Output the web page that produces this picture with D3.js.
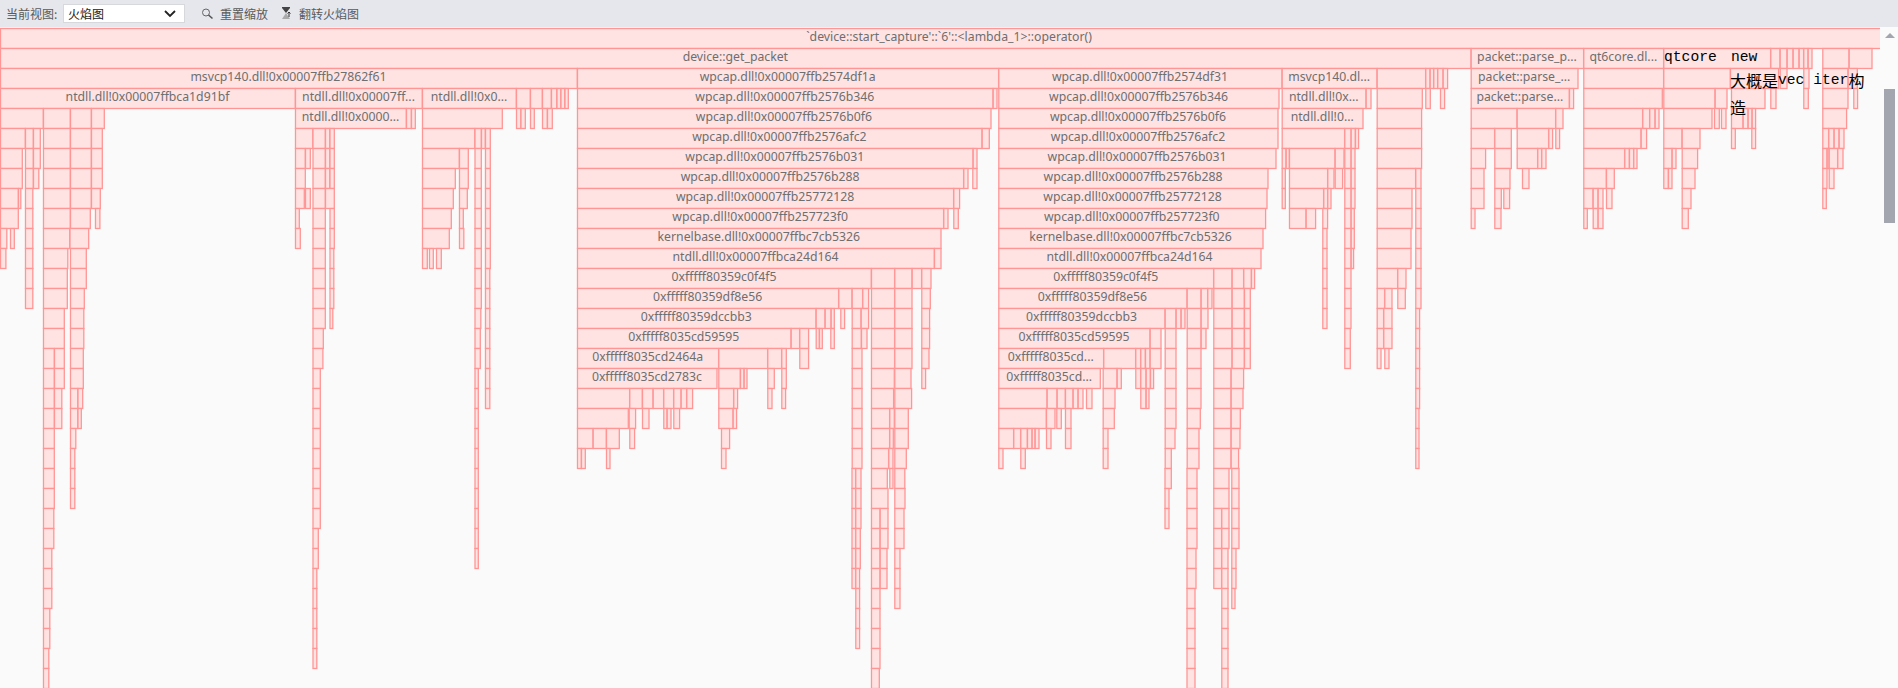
<!DOCTYPE html>
<html>
<head>
<meta charset="utf-8">
<title>flamegraph</title>
<script src="https://cdn.jsdelivr.net/npm/d3@7"></script>
<style>
  html, body { margin: 0; padding: 0; background: #fafafa; overflow: hidden; }
  svg { display: block; }
  .frame { fill: #ffe3e3; stroke: #ff9696; stroke-width: 1.3; }
  .label { font: 12.25px "Noto Sans", "Noto Sans CJK SC", sans-serif; fill: #6e6e6e; text-anchor: middle; dominant-baseline: central; }
  .tool { font: 12px "Noto Sans CJK SC", sans-serif; fill: #5a5a5a; dominant-baseline: central; }
  .note { font-family: "Liberation Mono", "Noto Sans CJK SC", monospace; font-size: 14.67px; fill: #000; dominant-baseline: central; }
</style>
</head>
<body>
<svg id="chart" width="1898" height="688"></svg>
<script>
// sample time of every stack frame, one list per call depth: [start, end]
var depth0 = [[0,1898]];
var depth1 = [[0,1470.7],[1470.7,1583.3],[1583.3,1663.3],[1663.3,1770.3],[1770.3,1779.7],[1779.7,1786.7],[1786.7,1792.7],[1792.7,1798.7],[1798.7,1803.3],[1803.3,1807.7],[1807.7,1811.7],[1822.3,1848.7],[1848.7,1871.7]];
var depth2 = [[0,577],[577,998.3],[998.3,1281.7],[1281.7,1376.7],[1376.7,1425.3],[1425.3,1429.7],[1429.7,1433.3],[1433.3,1437.3],[1437.3,1442.7],[1442.7,1447.3],[1470.7,1577.7],[1583.3,1663.3],[1663.3,1730],[1730,1778.3],[1779.7,1786.7],[1803.3,1808.7],[1822.3,1847.7],[1847.7,1857]];
var depth3 = [[0,295],[295,422],[422,516],[516,530],[530,542],[542,551],[551,556.5],[556.5,560.5],[560.5,564.5],[564.5,568],[577,992.7],[992.7,996.7],[998.3,1278.7],[1281.7,1365.7],[1365.7,1370.7],[1376.7,1422],[1425.3,1430],[1440,1444.3],[1470.7,1569],[1569,1573.3],[1583.3,1662],[1663.3,1714.7],[1714.7,1726.7],[1731,1764.7],[1770.3,1775.7],[1803.3,1808],[1822.3,1847.7],[1853.3,1857.3]];
var depth4 = [[0,43],[43,70],[70,91],[91,104],[295,406],[406,411],[411,415],[422,502],[516,520.5],[520.5,525],[530,534],[542,547],[547,552],[577,990.7],[998.3,1277.7],[1281.7,1362.7],[1376.7,1421.3],[1470.7,1516.7],[1516.7,1555.3],[1555.3,1562.7],[1583.3,1642.3],[1642.3,1649.3],[1649.3,1654.7],[1654.7,1658.7],[1663.3,1711.7],[1714,1719],[1721,1725.7],[1731,1742.7],[1742.7,1747.7],[1747.7,1751.7],[1751.7,1755.3],[1822.3,1846.3]];
var depth5 = [[0,25],[25,33],[33,40],[43,70],[70,91],[91,102],[295,312.5],[312.5,325],[325,329.5],[329.5,334],[422,474.5],[474.5,481],[481,485],[485,490],[577,981.7],[981.7,989],[998.3,1277.7],[1281.7,1344.3],[1344.3,1350.7],[1350.7,1355],[1355,1358.3],[1376.7,1421.3],[1470.7,1494.3],[1494.3,1511],[1516.7,1548.3],[1548.3,1552.3],[1555.3,1559.3],[1583.3,1640.7],[1640.7,1646.3],[1663.3,1681.7],[1681.7,1699.7],[1731,1735],[1751.3,1755.3],[1822.3,1828.3],[1828.3,1833.7],[1833.7,1838.7],[1838.7,1843.7]];
var depth6 = [[0,22],[25,33],[33,40],[43,70],[70,91],[91,102],[295,305],[305,310],[312.5,325],[325,329.5],[329.5,334],[422,459],[459,468],[474.5,481],[485,490],[577,972.7],[972.7,976.7],[998.3,1275.7],[1281.7,1285.7],[1285.7,1289],[1289,1334.7],[1334.7,1343.7],[1344.3,1350.7],[1350.7,1354.7],[1376.7,1421.3],[1470.7,1485.3],[1494.3,1511],[1516.7,1537.3],[1537.3,1541.3],[1541.3,1545.7],[1583.3,1624.3],[1624.3,1629],[1629,1633.3],[1633.3,1636.7],[1663.3,1671.7],[1671.7,1675.7],[1681.7,1697.3],[1822.3,1826.7],[1826.7,1828.7],[1828.7,1837.3],[1837.3,1842.7]];
var depth7 = [[0,22],[25,33],[33,38.5],[43,70],[70,91],[91,102],[295,305],[312.5,325],[325,329.5],[329.5,334],[422,455],[459,468],[474.5,481],[485,490],[577,963.3],[963.3,967.7],[972.3,976.7],[998.3,1267.7],[1281.7,1285],[1289,1327.3],[1327.3,1333.7],[1334.7,1342.3],[1344.3,1350.7],[1350.7,1354.7],[1376.7,1415.3],[1415.3,1420.7],[1470.7,1483.7],[1494.3,1509.7],[1522,1528.7],[1583.3,1606],[1606,1614],[1663.3,1668],[1668,1671.7],[1681.7,1694.7],[1822.3,1826.7],[1828.7,1833.7]];
var depth8 = [[0,18],[18,20.5],[25,32.5],[43,70],[70,91],[91,100],[295,304],[305,310],[312.5,325],[325,334],[422,453],[459,467],[474.5,481],[485,490],[577,953.3],[953.3,959.3],[998.3,1266.7],[1281.7,1285],[1289,1323.3],[1323.3,1327.3],[1327.3,1330.7],[1344.3,1350.7],[1350.7,1354.7],[1376.7,1411.7],[1415.3,1420.7],[1470.7,1483.7],[1494.3,1501],[1503.3,1509.3],[1583.3,1592.7],[1592.7,1597.7],[1597.7,1602.7],[1606,1611.7],[1681.7,1690.7],[1822.3,1826]];
var depth9 = [[0,18],[25,32.5],[43,70],[70,90],[95,99.6],[295,299],[312.5,325],[329.5,334],[422,451],[459,463],[474.5,481],[485,490],[577,943.3],[943.3,947.7],[953.3,958],[998.3,1265.3],[1289,1305.7],[1305.7,1315.3],[1322.3,1327.3],[1344.3,1350.7],[1350.7,1354],[1376.7,1411.7],[1415.3,1420.7],[1470.7,1474.7],[1494.3,1500.7],[1583.3,1587],[1592.7,1597.7],[1597.7,1602.7],[1681.7,1688]];
var depth10 = [[0,6.5],[10,14],[25,32.5],[43,69.5],[69.5,88.4],[295,300],[312.5,325],[329.5,334],[422,449],[459,463.5],[474.5,481],[485,490],[577,940.7],[998.3,1262.7],[1322.3,1326.7],[1344.3,1350.7],[1350.7,1354],[1376.7,1410.7],[1415.3,1420.7]];
var depth11 = [[0,5.6],[25,32.5],[43,67.5],[70,86],[312.5,325],[329.5,333.5],[422,427],[429,433],[436,441],[474.5,481],[485,490],[577,934],[934,940.7],[998.3,1260.7],[1322.3,1326.7],[1344.3,1350.7],[1350.7,1353.3],[1376.7,1410.7],[1415.3,1420.7]];
var depth12 = [[25,32.5],[43,67],[70,86],[312.5,325],[329.5,333.5],[474.5,481],[485,489.5],[577,871],[871,894.3],[894.3,911.7],[911.7,921.3],[921.3,930.7],[998.3,1213.3],[1213.3,1231.7],[1231.7,1243.3],[1243.3,1251],[1251,1254.3],[1322.3,1326.7],[1344.3,1350.7],[1376.7,1397.3],[1397.3,1405.7],[1415.3,1420.7]];
var depth13 = [[25,32.5],[43,67],[70,84],[312.5,325],[329.5,333.5],[474.5,481],[485,489.5],[577,838.3],[838.3,851.7],[851.7,862.3],[862.3,868.3],[871,894.3],[894.3,911.7],[921.3,930],[998.3,1186.7],[1186.7,1200.7],[1200.7,1207.3],[1207.3,1211.7],[1213.3,1231.7],[1231.7,1244],[1244,1250],[1322.3,1326.7],[1344.3,1350.7],[1376.7,1384.3],[1384.3,1391.7],[1397.3,1405],[1415.3,1420.7]];
var depth14 = [[43,64],[70,83.5],[312.5,325],[329.5,332.5],[474.5,480.5],[485,489.5],[577,815.7],[815.7,824.7],[824.7,830.7],[830.7,834],[840.3,844.3],[851.7,860.7],[860.7,868.3],[871,894.3],[894.3,911.7],[921.3,929.3],[998.3,1164.7],[1164.7,1175.7],[1175.7,1180.7],[1180.7,1184.7],[1186.7,1200.7],[1200.7,1207.7],[1213.3,1231.7],[1231.7,1244],[1244,1250],[1322.3,1326.7],[1344.3,1350.7],[1376.7,1383.3],[1383.3,1391.7],[1415.3,1419.3]];
var depth15 = [[43,64],[70,83.5],[312.5,323],[474.5,480],[485,489.5],[577,790.7],[790.7,799.3],[799.3,808.3],[815.7,819],[819,822],[830.3,834],[851.7,861],[861,866.7],[871,894.3],[894.3,911.7],[921.3,929.3],[998.3,1149.7],[1149.7,1160.7],[1164.7,1175.7],[1186.7,1200.7],[1200.7,1205.7],[1213.3,1231.7],[1231.7,1244],[1244,1250],[1344.3,1350],[1376.7,1383.3],[1383.3,1391.7],[1415.3,1419.3]];
var depth16 = [[43,54],[54,64],[70,83],[312.5,322.6],[474.5,480],[485,489.5],[577,718.3],[718.3,767.3],[767.3,781.3],[781.3,786],[799.3,808.3],[851.7,861.7],[871,894.3],[894.3,911.7],[921.3,928.7],[998.3,1103.3],[1103.3,1135.3],[1135.3,1140.3],[1140.3,1145],[1145,1149.7],[1149.7,1160.7],[1164.7,1175.7],[1186.7,1200.7],[1213.3,1231.7],[1231.7,1244],[1244,1250],[1344.3,1350],[1376.7,1380.7],[1384.3,1388.7],[1415.3,1419.3]];
var depth17 = [[43,54],[54,64],[70,83],[312.5,320],[474.5,478],[485,489.5],[577,716.7],[718.3,740],[740,743.7],[743.7,746.7],[767.3,774],[781.3,786],[851.7,861.7],[871,894],[894.3,910.7],[921.3,925.3],[998.3,1100],[1102.7,1116.7],[1116.7,1121],[1135.3,1140.3],[1140.3,1145.7],[1145.7,1150],[1150,1153.3],[1164.7,1175.7],[1186.7,1200.7],[1213.3,1230.7],[1230.7,1243.3],[1415.3,1419.3]];
var depth18 = [[43,54],[54,61.5],[70,77.5],[77.5,82.4],[312.5,320],[474.5,478],[485,489.5],[577,629.3],[629.3,642],[642,652.7],[652.7,663.3],[663.3,673.3],[673.3,680.7],[680.7,686.3],[686.3,692.3],[718.3,733.3],[733.3,737.3],[767.3,771.7],[781.3,785.3],[851.7,861.7],[871,893.3],[894.3,911.3],[998.3,1046.7],[1046.7,1056.7],[1056.7,1065],[1065,1072.7],[1072.7,1077.7],[1077.7,1082.7],[1086,1091.7],[1102.7,1114.7],[1140.3,1145.7],[1145.7,1148.7],[1164.7,1175.7],[1186.7,1200.7],[1213.3,1230.7],[1230.7,1242.7],[1415.3,1419.3]];
var depth19 = [[43,54],[54,61.5],[70,77.5],[77.5,81],[312.5,320],[474.5,478],[577,628],[628.7,635.3],[642,648.7],[663.3,666.7],[666.7,670.7],[673.3,679.3],[718.3,732.7],[732.7,736.3],[851.7,861.7],[871,889.3],[889.3,894],[894.3,908],[998.3,1046],[1046,1054.7],[1056.3,1061],[1065,1070.7],[1102.7,1114],[1164.7,1175.7],[1186.7,1200],[1213.3,1230.7],[1230.7,1240],[1415.3,1418.7]];
var depth20 = [[43,54],[70,75.5],[312.5,320],[474.5,478],[577,592.7],[592.7,606],[606,619],[629.3,634.3],[721,729.3],[851.7,861.7],[871,889.3],[889.3,893],[894.3,908],[998.3,1013.3],[1013.3,1020.3],[1020.3,1027],[1027,1031.7],[1031.7,1034.7],[1034.7,1038.7],[1046,1050.7],[1065,1070.7],[1102.7,1107.7],[1164.7,1174.7],[1186.7,1198.7],[1213.3,1230.7],[1230.7,1239.7],[1415.3,1418.7]];
var depth21 = [[43,54],[70,74.5],[312.5,320],[474.5,478],[577,581],[581,585],[606,609.7],[721,725.7],[851.7,861.7],[871,888.3],[888.3,892.7],[894.3,906],[998.3,1002.7],[1020.3,1025],[1102.7,1107.7],[1164.7,1171],[1186.7,1198.7],[1213.3,1230.7],[1230.7,1238.3],[1415.3,1418.7]];
var depth22 = [[43,54],[70,74.5],[312.5,320],[474.5,478],[851.5,855.3],[855.3,860.7],[871,887],[889.3,892.7],[894.3,904.5],[1164.5,1171],[1186.5,1196.7],[1213.3,1228.7],[1231.3,1238.7]];
var depth23 = [[43,54],[70,74.5],[312.5,320],[474.5,478],[851.5,855.3],[855.3,860.7],[871,887.7],[894.3,904.7],[1164.5,1168.7],[1186.5,1196.7],[1213.3,1228.7],[1231.3,1238.7]];
var depth24 = [[43,53.5],[312.5,320],[474.5,478],[851.5,855.3],[855.3,860.7],[871,879.7],[879.7,887.7],[894.3,903.7],[1164.5,1168.7],[1186.5,1196.7],[1213.3,1221.3],[1221.3,1228.7],[1231.3,1238.7]];
var depth25 = [[43,53.5],[312.5,318],[474.5,478],[851.5,855.3],[855.3,860],[871,879.7],[879.7,887.7],[894.3,903.7],[1186.5,1196.7],[1213.3,1221.3],[1221.3,1228.7],[1231.3,1238.7]];
var depth26 = [[43,51.5],[312.5,318],[474.5,478],[851.5,855.3],[855.3,860],[871,879.7],[879.7,886.7],[894.3,899.7],[1186.5,1195.7],[1213.3,1221.3],[1221.3,1227.7],[1231.3,1235.7]];
var depth27 = [[43,51.5],[312.5,316.5],[851.5,855.3],[855.3,859.3],[871,879.7],[879.7,886.7],[894.3,899.7],[1186.5,1195.7],[1213.3,1221.3],[1221.3,1227.7],[1231.3,1235.7]];
var depth28 = [[43,51.5],[312.5,316.5],[855.3,859.3],[871,879.7],[894.3,899.7],[1186.5,1194.7],[1221.3,1227.7],[1231.3,1234.7]];
var depth29 = [[43,49.5],[312.5,316.5],[855.3,859.3],[871,879.7],[1186.5,1194.7],[1221.3,1227.7]];
var depth30 = [[43,49.5],[312.5,316.5],[855.3,859.3],[871,879.7],[1186.5,1194.7],[1221.3,1227.7]];
var depth31 = [[43,48.5],[312.5,316.5],[871,879.7],[1186.5,1194.7],[1221.3,1227.7]];
var depth32 = [[43,48.5],[871,879],[1186.5,1194.7],[1221.3,1227.7]];

var allDepths = [depth0,depth1,depth2,depth3,depth4,depth5,depth6,depth7,depth8,depth9,depth10,depth11,depth12,depth13,depth14,depth15,depth16,depth17,depth18,depth19,depth20,depth21,depth22,depth23,depth24,depth25,depth26,depth27,depth28,depth29,depth30,depth31,depth32];

// frame names: [depth, frame start, text as the viewer elided it]
var frameLabels = [
  [0,0,"`device::start_capture'::`6'::<lambda_1>::operator()"],
  [1,0,"device::get_packet"],[1,1470.7,"packet::parse_p..."],[1,1583.3,"qt6core.dl..."],
  [2,0,"msvcp140.dll!0x00007ffb27862f61"],[2,577,"wpcap.dll!0x00007ffb2574df1a"],[2,998.3,"wpcap.dll!0x00007ffb2574df31"],[2,1281.7,"msvcp140.dl..."],[2,1470.7,"packet::parse_..."],
  [3,0,"ntdll.dll!0x00007ffbca1d91bf"],[3,295,"ntdll.dll!0x00007ff..."],[3,422,"ntdll.dll!0x0..."],[3,577,"wpcap.dll!0x00007ffb2576b346"],[3,998.3,"wpcap.dll!0x00007ffb2576b346"],[3,1281.7,"ntdll.dll!0x..."],[3,1470.7,"packet::parse..."],
  [4,295,"ntdll.dll!0x0000..."],[4,577,"wpcap.dll!0x00007ffb2576b0f6"],[4,998.3,"wpcap.dll!0x00007ffb2576b0f6"],[4,1281.7,"ntdll.dll!0..."],
  [5,577,"wpcap.dll!0x00007ffb2576afc2"],[5,998.3,"wpcap.dll!0x00007ffb2576afc2"],
  [6,577,"wpcap.dll!0x00007ffb2576b031"],[6,998.3,"wpcap.dll!0x00007ffb2576b031"],
  [7,577,"wpcap.dll!0x00007ffb2576b288"],[7,998.3,"wpcap.dll!0x00007ffb2576b288"],
  [8,577,"wpcap.dll!0x00007ffb25772128"],[8,998.3,"wpcap.dll!0x00007ffb25772128"],
  [9,577,"wpcap.dll!0x00007ffb257723f0"],[9,998.3,"wpcap.dll!0x00007ffb257723f0"],
  [10,577,"kernelbase.dll!0x00007ffbc7cb5326"],[10,998.3,"kernelbase.dll!0x00007ffbc7cb5326"],
  [11,577,"ntdll.dll!0x00007ffbca24d164"],[11,998.3,"ntdll.dll!0x00007ffbca24d164"],
  [12,577,"0xfffff80359c0f4f5"],[12,998.3,"0xfffff80359c0f4f5"],
  [13,577,"0xfffff80359df8e56"],[13,998.3,"0xfffff80359df8e56"],
  [14,577,"0xfffff80359dccbb3"],[14,998.3,"0xfffff80359dccbb3"],
  [15,577,"0xfffff8035cd59595"],[15,998.3,"0xfffff8035cd59595"],
  [16,577,"0xfffff8035cd2464a"],[16,998.3,"0xfffff8035cd..."],
  [17,577,"0xfffff8035cd2783c"],[17,998.3,"0xfffff8035cd..."]
];

var toolbarTexts = ["当前视图:", "火焰图", "重置缩放", "翻转火焰图"];

var W = 1898, H = 688, barTop = 28, plotW = 1880;
var svg = d3.select('#chart');

svg.append('rect').attr('width', W).attr('height', H).attr('fill', '#fafafa');

var x = d3.scaleLinear().domain([0, 1898]).range([0, W]);
var y = d3.scaleBand().domain(d3.range(allDepths.length)).range([barTop, H]);

var frames = [];
allDepths.forEach(function (row, depth) {
  row.forEach(function (f) {
    frames.push({ depth: depth, start: f[0], end: f[1] });
  });
});

svg.append('g').selectAll('rect')
  .data(frames)
  .join('rect')
  .attr('class', 'frame')
  .attr('x', function (d) { return x(d.start) + 0.5; })
  .attr('y', function (d) { return y(d.depth) + 0.5; })
  .attr('width', function (d) { return Math.max(x(d.end) - x(d.start) - 0.2, 1); })
  .attr('height', y.bandwidth());

svg.append('g').selectAll('text')
  .data(frameLabels)
  .join('text')
  .attr('class', 'label')
  .attr('x', function (d) {
    var f = allDepths[d[0]].find(function (r) { return r[0] === d[1]; });
    return x((f[0] + f[1]) / 2);
  })
  .attr('y', function (d) { return y(d[0]) + y.bandwidth() / 2 - 1.5; })
  .text(function (d) { return d[2]; });

// hand typed notes sitting on top of the graph
var notes = svg.append('g').attr('class', 'note');
notes.append('text').attr('x', 1664).attr('y', 57).text('qtcore');
notes.append('text').attr('x', 1731).attr('y', 57).text('new');
var line1 = notes.append('text').attr('x', 1730).attr('y', 80);
line1.append('tspan').style('font-size', '16px').style('font-family', '"Noto Sans CJK SC"').text('大概是');
line1.append('tspan').text('vec iter');
line1.append('tspan').style('font-size', '16px').style('font-family', '"Noto Sans CJK SC"').text('构');
notes.append('text').attr('x', 1730).attr('y', 107).style('font-size', '16px').style('font-family', '"Noto Sans CJK SC"').text('造');

// toolbar
var bar = svg.append('g');
bar.append('rect').attr('width', W).attr('height', barTop - 1).attr('fill', '#e6e7ec');
bar.append('text').attr('class', 'tool').attr('x', 6).attr('y', 13).text(toolbarTexts[0]);
bar.append('rect').attr('x', 63.5).attr('y', 4.5).attr('width', 121).attr('height', 18).attr('fill', '#fff').attr('stroke', '#d7d8dc');
bar.append('text').attr('class', 'tool').attr('x', 68).attr('y', 13).style('fill', '#222').text(toolbarTexts[1]);
bar.append('path').attr('d', 'M165 11l5 5l5 -5').attr('fill', 'none').attr('stroke', '#222').attr('stroke-width', 1.8);
bar.append('circle').attr('cx', 206).attr('cy', 12.5).attr('r', 3.5).attr('fill', 'none').attr('stroke', '#666');
bar.append('path').attr('d', 'M208.5 15l4 3.5').attr('stroke', '#555').attr('stroke-width', 1.6);
bar.append('text').attr('class', 'tool').attr('x', 220).attr('y', 13).text(toolbarTexts[2]);
bar.append('path').attr('d', 'M282 8h8l-4 5z').attr('fill', '#444');
bar.append('path').attr('d', 'M282 19h8l-4 -6z').attr('fill', '#aaa');
bar.append('path').attr('d', 'M282 7.5h8').attr('stroke', '#444');
bar.append('path').attr('d', 'M289 17v-5m-1.5 1.5l1.5 -1.5l1.5 1.5').attr('stroke', '#333').attr('fill', 'none');
bar.append('text').attr('class', 'tool').attr('x', 299).attr('y', 13).text(toolbarTexts[3]);

// scrollbar on the right
var scroll = svg.append('g');
scroll.append('rect').attr('x', plotW).attr('y', barTop - 1).attr('width', W - plotW).attr('height', H - barTop + 1).attr('fill', '#fbfbfb');
scroll.append('path').attr('d', 'M1885 38l5 -5l5 5z').attr('fill', '#a3a6ae');
scroll.append('rect').attr('x', 1884).attr('y', 89).attr('width', 11).attr('height', 134).attr('fill', '#a3a6ae');
</script>
</body>
</html>
